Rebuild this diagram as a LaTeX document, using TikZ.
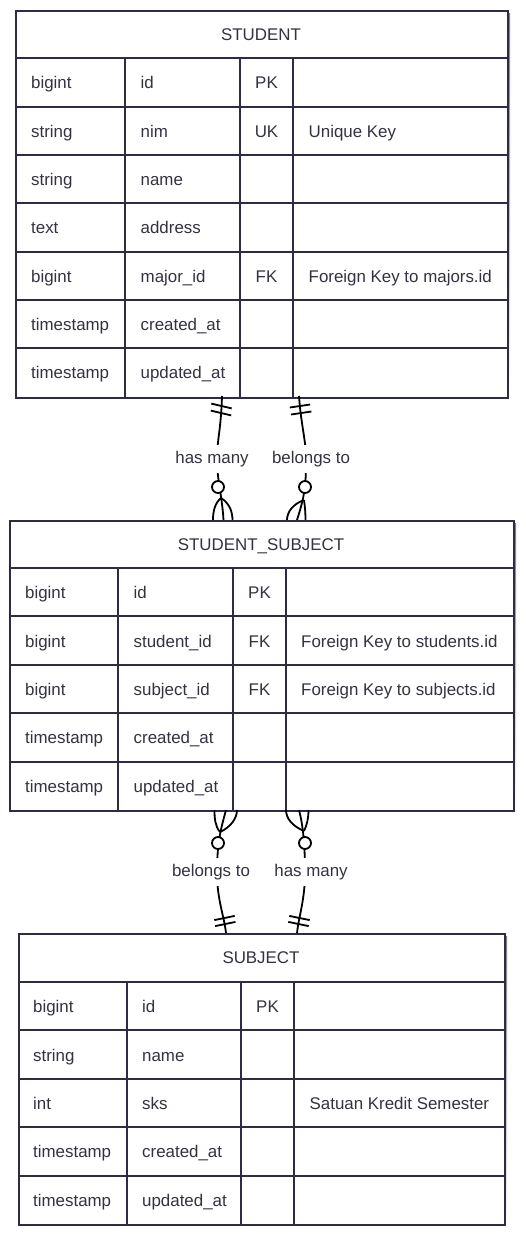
\documentclass[tikz,border=0pt]{standalone}
\usepackage{fontspec}
\setmainfont{Liberation Sans}
\usetikzlibrary{calc}
\definecolor{border}{HTML}{2D2B45}
\definecolor{ink}{HTML}{333340}
\definecolor{shade}{HTML}{DEDEE2}
\tikzset{
  entity/.style={draw=border, line width=2pt, fill=white, inner sep=0pt, anchor=north west},
  grid/.style={draw=border, line width=2pt},
  cell/.style={text=ink, font=\fontsize{16.9}{20}\selectfont, inner sep=0pt, anchor=base west},
  keycell/.style={cell, anchor=base},
  title/.style={cell, anchor=base},
  rel/.style={draw=black, line width=1.8pt},
  bar/.style={draw=black, line width=1.8pt},
  zero/.style={circle, draw=black, line width=1.8pt, fill=white, minimum size=12pt, inner sep=0pt},
  lbl/.style={text=ink, font=\fontsize{16.9}{20}\selectfont, fill=white, inner sep=2pt,
    text height=12pt, text depth=4pt, minimum height=28pt}
}

\begin{document}
\begin{tikzpicture}[x=1pt,y=-1pt]
  \fill[white] (0,0) rectangle (526,1234);
  \useasboundingbox (0,0) rectangle (526,1234);

  % STUDENT
  \fill[shade] (18,13) rectangle (510,399.5);
  \node[entity, minimum width=492, minimum height=386.5] (student) at (15,10) {};
  \node[title] (student-title) at (261,40) {STUDENT};
  \draw[grid] (15,58.3) -- (507,58.3);
  \foreach \i in {1,...,6} \draw[grid] (15,{58.3+48.33*\i}) -- (507,{58.3+48.33*\i});
  \foreach \x in {125,240,293} \draw[grid] (\x,58.3) -- (\x,396.5);
  \foreach \i/\t/\n/\k/\c in {
      1/bigint/id/PK/,
      2/string/nim/UK/Unique Key,
      3/string/name//,
      4/text/address//,
      5/bigint/major\_id/FK/Foreign Key to majors.id,
      6/timestamp/created\_at//,
      7/timestamp/updated\_at//}{
    \pgfmathsetmacro\rowy{58.3+48.33*\i-17.7}
    \node[cell] (student-type-\i) at (31,\rowy) {\t};
    \node[cell] (student-name-\i) at (140.5,\rowy) {\n};
    \node[keycell] (student-key-\i) at (266.5,\rowy) {\k};
    \node[cell] (student-note-\i) at (308.5,\rowy) {\c};
  }

  % STUDENT_SUBJECT
  \fill[shade] (12,523) rectangle (516,813);
  \node[entity, minimum width=504, minimum height=290] (studentsubject) at (9,520) {};
  \node[title] (studentsubject-title) at (261,550) {STUDENT\_SUBJECT};
  \draw[grid] (9,568) -- (513,568);
  \foreach \i in {1,...,4} \draw[grid] (9,{568+48.4*\i}) -- (513,{568+48.4*\i});
  \foreach \x in {118,233,286} \draw[grid] (\x,568) -- (\x,810);
  \foreach \i/\t/\n/\k/\c in {
      1/bigint/id/PK/,
      2/bigint/student\_id/FK/Foreign Key to students.id,
      3/bigint/subject\_id/FK/Foreign Key to subjects.id,
      4/timestamp/created\_at//,
      5/timestamp/updated\_at//}{
    \pgfmathsetmacro\rowy{568+48.4*\i-17.7}
    \node[cell] (studentsubject-type-\i) at (25,\rowy) {\t};
    \node[cell] (studentsubject-name-\i) at (133.5,\rowy) {\n};
    \node[keycell] (studentsubject-key-\i) at (259.5,\rowy) {\k};
    \node[cell] (studentsubject-note-\i) at (301,\rowy) {\c};
  }

  % SUBJECT
  \fill[shade] (21,936) rectangle (507,1227);
  \node[entity, minimum width=486, minimum height=291] (subject) at (18,933) {};
  \node[title] (subject-title) at (261,963.5) {SUBJECT};
  \draw[grid] (18,982) -- (504,982);
  \foreach \i in {1,...,4} \draw[grid] (18,{982+48.4*\i}) -- (504,{982+48.4*\i});
  \foreach \x in {127,241,294} \draw[grid] (\x,982) -- (\x,1224);
  \foreach \i/\t/\n/\k/\c in {
      1/bigint/id/PK/,
      2/string/name//,
      3/int/sks//Satuan Kredit Semester,
      4/timestamp/created\_at//,
      5/timestamp/updated\_at//}{
    \pgfmathsetmacro\rowy{982+48.4*\i-17.7}
    \node[cell] (subject-type-\i) at (33,\rowy) {\t};
    \node[cell] (subject-name-\i) at (142,\rowy) {\n};
    \node[keycell] (subject-key-\i) at (267.5,\rowy) {\k};
    \node[cell] (subject-note-\i) at (309.5,\rowy) {\c};
  }

  % relation ends
  \coordinate (r1-a) at (222,396);   \coordinate (r1-m) at (217,459);   \coordinate (r1-b) at (223.5,520);
  \coordinate (r2-a) at (299,396);   \coordinate (r2-m) at (306,459);   \coordinate (r2-b) at (297,520);
  \coordinate (r3-a) at (226,810);   \coordinate (r3-m) at (217,872);   \coordinate (r3-b) at (226,933);
  \coordinate (r4-a) at (299,810);   \coordinate (r4-m) at (305,872);   \coordinate (r4-b) at (297,933);

  % relation lines
  \draw[rel] (r1-a) .. controls (221,430) and (217,440) .. (r1-m) .. controls (217,480) and (222,495) .. (r1-b);
  \draw[rel] (r2-a) .. controls (301,425) and (306,440) .. (r2-m) .. controls (306,485) and (305,495) .. (r2-b);
  \draw[rel] (r3-a) .. controls (222,825) and (217,840) .. (r3-m) .. controls (217,900) and (224,915) .. (r3-b);
  \draw[rel] (r4-a) .. controls (303,825) and (305,845) .. (r4-m) .. controls (305,900) and (299,915) .. (r4-b);

  % crow's feet
  \draw[rel] (221,498) .. controls (215,503) and (213,511) .. (213,520);
  \draw[rel] (221,498) .. controls (229,503) and (232.5,511) .. (232.5,520);
  \draw[rel] (304,500) .. controls (293,504) and (287,512) .. (287,520);
  \draw[rel] (304,500) .. controls (305,507) and (305.5,513) .. (305.5,520);
  \draw[rel] (220,832) .. controls (215,826) and (214.5,818) .. (214.5,810);
  \draw[rel] (220,832) .. controls (231,827) and (237,818) .. (237,810);
  \draw[rel] (304,831) .. controls (292,826) and (286,818) .. (286,810);
  \draw[rel] (304,831) .. controls (307,825) and (308.5,818) .. (308.5,810);

  % zero circles
  \node[zero] (r1-zero) at (218,487) {};
  \node[zero] (r2-zero) at (305,487) {};
  \node[zero] (r3-zero) at (218,843) {};
  \node[zero] (r4-zero) at (305,843) {};

  % one bars
  \draw[bar] (211.3,403.6) -- (231.7,408.4);
  \draw[bar] (210.8,410.6) -- (231.2,415.4);
  \draw[bar] (289.8,407.5) -- (310.2,404.5);
  \draw[bar] (291,414.5) -- (311.4,411.5);
  \draw[bar] (214.3,920.1) -- (234.7,915.9);
  \draw[bar] (215.1,926.1) -- (235.5,921.9);
  \draw[bar] (289.3,915.9) -- (309.7,920.1);
  \draw[bar] (288.3,921.9) -- (308.7,926.1);

  % labels
  \node[lbl] (r1-label) at (212,459) {has many};
  \node[lbl] (r2-label) at (311,459) {belongs to};
  \node[lbl] (r3-label) at (211,872) {belongs to};
  \node[lbl] (r4-label) at (311,872) {has many};
\end{tikzpicture}
\end{document}
